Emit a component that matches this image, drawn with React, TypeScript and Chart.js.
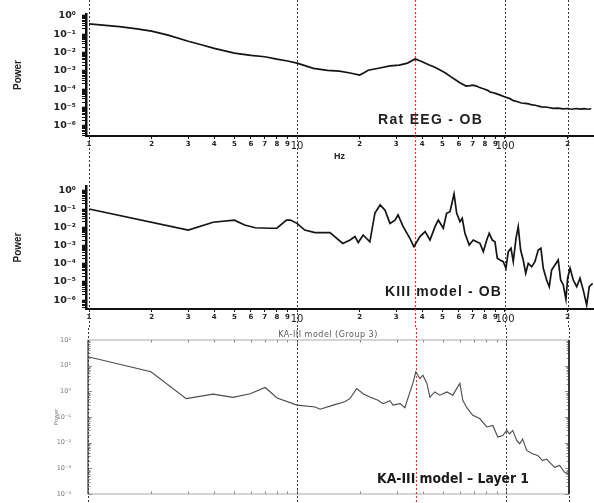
import React, { useEffect, useRef } from 'react';
import { Chart, registerables } from 'chart.js';

Chart.register(...registerables);

// ---------------- data ----------------
// Panel 1: Rat EEG - OB (Hz, power)
const eegFreq = [1, 1.2, 1.4, 1.7, 2, 2.4, 3, 3.5, 4, 4.5, 5, 6, 7, 8, 9, 10, 11, 12, 14, 16, 18, 20, 21, 22, 25, 28, 31, 34, 37, 40, 43, 46, 49, 52, 55, 58, 61, 65, 68, 70, 73, 75, 78, 80, 83, 85, 88, 90, 95, 100, 105, 110, 115, 120, 125, 130, 135, 140, 145, 150, 160, 170, 180, 190, 200, 210, 220, 230, 240, 250, 260];
const eegPower = [0.37, 0.31, 0.26, 0.2, 0.15, 0.09, 0.042, 0.026, 0.017, 0.0125, 0.0094, 0.0071, 0.006, 0.0044, 0.0035, 0.0027, 0.0019, 0.0014, 0.00108, 0.00098, 0.00078, 0.0006, 0.0008, 0.0011, 0.00145, 0.0019, 0.0021, 0.0027, 0.0045, 0.0032, 0.0022, 0.0016, 0.0011, 0.00075, 0.00048, 0.00032, 0.00022, 0.00015, 0.00016, 0.00017, 0.00015, 0.00013, 0.00011, 0.0001, 0.000085, 0.00007, 0.000065, 0.00006, 0.000048, 0.000038, 0.000032, 0.000024, 0.000021, 0.000018, 0.000017, 0.000016, 0.000014, 0.0000135, 0.000012, 0.000011, 0.0000105, 0.0000092, 0.0000095, 0.0000085, 0.000009, 0.0000082, 0.000009, 0.0000083, 0.0000088, 0.0000082, 0.0000087];

// Panel 2: KIII model - OB
const kiiiFreq = [1, 3, 3.95, 5, 5.6, 6.3, 7.4, 8, 8.9, 9.3, 10, 10.9, 12.2, 14.4, 16.6, 18, 19, 19.7, 20.8, 22.4, 23.7, 25.1, 26.5, 28, 29.6, 30.6, 32.4, 34.9, 36.5, 39, 41.3, 43.6, 46.1, 47.8, 50.5, 52.4, 54.4, 56.9, 58.6, 60.8, 62.3, 64.2, 67.3, 70.4, 73.1, 75.8, 78.7, 81.7, 84, 86.9, 89.5, 91.8, 94.6, 98.1, 101.1, 103.7, 106.9, 109.6, 113, 115.8, 118.9, 122.4, 125.8, 129.4, 134.4, 139.3, 144.5, 148.9, 152.8, 158.6, 163.3, 167.6, 173.9, 180.3, 185.2, 190.6, 196.4, 200.1, 205.6, 213, 221.2, 229.5, 237.9, 247.1, 254.3, 264];
const kiiiPower = [0.102, 0.0071, 0.019, 0.025, 0.0135, 0.0095, 0.0089, 0.0091, 0.025, 0.025, 0.0166, 0.0071, 0.0051, 0.0051, 0.0013, 0.002, 0.0031, 0.00145, 0.0038, 0.0016, 0.062, 0.17, 0.089, 0.0166, 0.025, 0.048, 0.011, 0.0025, 0.00085, 0.0031, 0.0058, 0.002, 0.011, 0.025, 0.0089, 0.059, 0.072, 0.68, 0.059, 0.0204, 0.0316, 0.0047, 0.00107, 0.002, 0.00162, 0.00132, 0.00046, 0.002, 0.0047, 0.002, 0.00162, 0.0002, 0.00016, 0.00013, 0.000056, 0.00046, 0.0007, 0.00013, 0.0025, 0.011, 0.00056, 0.00016, 0.0000295, 0.000105, 0.000068, 0.00013, 0.00056, 0.0007, 0.000056, 0.0000126, 0.0000054, 0.0000447, 0.000085, 0.00016, 0.0000126, 0.0000068, 0.0000011, 0.0000158, 0.000056, 0.0000126, 0.0000054, 0.0000158, 0.0000035, 0.00000053, 0.0000054, 0.0000083];

// Panel 3: KA-III model - Layer 1
const kaFreq = [1, 2, 2.95, 3.97, 4.94, 5.97, 7.04, 8.03, 10, 12.2, 12.9, 14.9, 16.9, 17.9, 19.3, 20.7, 22.3, 24.4, 25.8, 27.8, 28.8, 31.1, 32.8, 34.7, 35.8, 37, 38.7, 40, 41.8, 43.2, 45.6, 48.2, 52.1, 55.6, 60.1, 62.1, 64.9, 69.3, 74.8, 80.9, 86.4, 91.3, 96.4, 100.7, 104, 107.6, 112.4, 116.2, 120, 125.4, 134, 141.6, 149.6, 156.3, 161.7, 170.8, 180.5, 190.6, 197.2];
const kaPower = [22.4, 5.75, 0.52, 0.78, 0.58, 0.81, 1.41, 0.55, 0.29, 0.245, 0.2, 0.29, 0.39, 0.52, 1.29, 0.81, 0.6, 0.45, 0.33, 0.43, 0.29, 0.33, 0.23, 0.95, 2.04, 5.75, 3.16, 4.27, 2.04, 0.6, 0.95, 0.71, 0.95, 0.71, 2.04, 0.45, 0.23, 0.117, 0.087, 0.041, 0.047, 0.0166, 0.019, 0.03, 0.022, 0.03, 0.0123, 0.0091, 0.014, 0.005, 0.0037, 0.0032, 0.002, 0.0023, 0.0017, 0.0011, 0.0013, 0.0007, 0.0006];

// reference frequency lines and tick labels
const markerFreqs = [1, 10, 37, 100, 200];
const redMarkerFreq = 37;
const upperXTicks = [1, 2, 3, 4, 5, 6, 7, 8, 9, 10, 20, 30, 40, 50, 60, 70, 80, 90, 100, 200];
const upperMajorX = [10, 100];
const kaXTicks = [1, 10, 100];
const kaYTicks = [1e2, 1e1, 1e0, 1e-1, 1e-2, 1e-3, 1e-4];

const eegLabel = 'Rat EEG - OB';
const kiiiLabel = 'KIII model - OB';
const kaLabel = 'KA-III model \u2013 Layer 1';
const kaHeader = 'KA-III model (Group 3)';
const powerTitle = 'Power';
const hzTitle = 'Hz';

// ---------------- helpers ----------------
const SUP: Record<string, string> = { '0': '\u2070', '1': '\u00b9', '2': '\u00b2', '3': '\u00b3', '4': '\u2074', '5': '\u2075', '6': '\u2076', '7': '\u2077', '8': '\u2078', '9': '\u2079', '-': '\u207b' };
const pow10Label = (v: number) => '10' + String(Math.round(Math.log10(v))).split('').map((c) => SUP[c] || c).join('');
const isDecade = (v: number) => Math.abs(Math.log10(v) - Math.round(Math.log10(v))) < 1e-6;
const upperXLabel = (v: number) => {
  if (v === 1 || v === 10 || v === 100) return String(v);
  const e = Math.floor(Math.log10(v) + 1e-9);
  return String(Math.round(v / Math.pow(10, e)));
};
const logTickValues = (min: number, max: number) => {
  const out: { value: number }[] = [];
  for (let e = Math.floor(Math.log10(min)); e <= Math.ceil(Math.log10(max)); e++) {
    for (let k = 1; k <= 9; k++) {
      const v = k * Math.pow(10, e);
      if (v >= min * 0.999 && v <= max * 1.001) out.push({ value: v });
    }
  }
  return out;
};
const toPoints = (xs: number[], ys: number[]) => xs.map((x, i) => ({ x, y: ys[i] }));

// ---------------- plugins ----------------
const markerPlugin = {
  id: 'markers',
  beforeDatasetsDraw(chart: any) {
    const { ctx } = chart;
    const xs = chart.scales.x;
    markerFreqs.forEach((f) => {
      const px = Math.round(xs.getPixelForValue(f)) + 0.5;
      const red = f === redMarkerFreq;
      ctx.save();
      ctx.setLineDash([2, 2]);
      ctx.lineWidth = red ? 1.2 : 1;
      ctx.strokeStyle = red ? 'rgb(232,52,44)' : '#3c3c3c';
      ctx.beginPath();
      ctx.moveTo(px, 0);
      ctx.lineTo(px, chart.height);
      ctx.stroke();
      ctx.restore();
    });
  },
};

type Note = { text: string; x: number; y: number; font: string; color: string; align?: CanvasTextAlign; spacing?: number; maxWidth?: number };
const makeNotes = (items: Note[]) => ({
  id: 'notes',
  afterDatasetsDraw(chart: any) {
    const { ctx } = chart;
    items.forEach((it) => {
      ctx.save();
      ctx.font = it.font;
      ctx.fillStyle = it.color;
      ctx.textAlign = it.align || 'left';
      ctx.textBaseline = 'middle';
      if (it.spacing) (ctx as any).letterSpacing = it.spacing + 'px';
      if (it.maxWidth) ctx.fillText(it.text, it.x, it.y, it.maxWidth);
      else ctx.fillText(it.text, it.x, it.y);
      ctx.restore();
    });
  },
});

const kaBoxPlugin = {
  id: 'kaBox',
  beforeDatasetsDraw(chart: any) {
    const { ctx, chartArea: a } = chart;
    const xs = chart.scales.x;
    const ys = chart.scales.y;
    ctx.save();
    ctx.strokeStyle = '#b8b8b8';
    ctx.lineWidth = 1.2;
    ctx.strokeRect(a.left, a.top, a.right - a.left, a.bottom - a.top);
    ctx.strokeStyle = '#8c8c8c';
    ctx.lineWidth = 1;
    ctx.beginPath();
    for (let e = 0; e <= 2; e++) {
      for (let k = 1; k <= 9; k++) {
        const v = k * Math.pow(10, e);
        if (v > xs.max) break;
        const px = Math.round(xs.getPixelForValue(v)) + 0.5;
        const len = k === 1 ? 4 : 2.5;
        ctx.moveTo(px, a.bottom);
        ctx.lineTo(px, a.bottom - len);
        ctx.moveTo(px, a.top);
        ctx.lineTo(px, a.top + len);
      }
    }
    for (let e = -4; e <= 1; e++) {
      for (let k = 1; k <= 9; k++) {
        const v = k * Math.pow(10, e);
        const py = Math.round(ys.getPixelForValue(v)) + 0.5;
        const len = k === 1 ? 4 : 2.5;
        ctx.moveTo(a.left, py);
        ctx.lineTo(a.left + len, py);
        ctx.moveTo(a.right, py);
        ctx.lineTo(a.right - len, py);
      }
    }
    ctx.stroke();
    ctx.strokeStyle = '#6e6e6e';
    ctx.lineWidth = 1.5;
    ctx.beginPath();
    ctx.moveTo(a.left, a.top);
    ctx.lineTo(a.left, a.bottom);
    ctx.stroke();
    ctx.strokeStyle = '#333';
    ctx.lineWidth = 2;
    ctx.beginPath();
    ctx.moveTo(a.right, a.top);
    ctx.lineTo(a.right, a.bottom);
    ctx.stroke();
    ctx.restore();
  },
};

// ---------------- configs ----------------
const X_MIN = 0.967;
const X_MAX = 265;

function upperConfig(freq: number[], power: number[], yMin: number, yMax: number, padTop: number, xAxisHeight: number, showHz: boolean, notes: Note[]) {
  return {
    type: 'line',
    data: {
      datasets: [
        { data: toPoints(freq, power), borderColor: '#141414', borderWidth: 1.7, pointRadius: 0, tension: 0, fill: false },
      ],
    },
    options: {
      animation: false,
      responsive: false,
      devicePixelRatio: 1,
      events: [],
      layout: { padding: { left: 0, right: 1, top: padTop, bottom: 0 } },
      plugins: { legend: { display: false }, tooltip: { enabled: false }, title: { display: false } },
      scales: {
        x: {
          type: 'logarithmic',
          position: 'bottom',
          min: X_MIN,
          max: X_MAX,
          afterBuildTicks: (s: any) => { s.ticks = upperXTicks.map((v) => ({ value: v })); },
          afterFit: (s: any) => { s.height = xAxisHeight; s.paddingLeft = 0; s.paddingRight = 0; },
          grid: { display: true, drawOnChartArea: false, drawTicks: true, tickLength: 3, color: '#111', lineWidth: 1 },
          border: { display: true, color: '#111', width: 2 },
          ticks: {
            autoSkip: false,
            maxRotation: 0,
            minRotation: 0,
            padding: 1,
            color: '#222',
            callback: (v: any) => upperXLabel(Number(v)),
            font: (c: any) => (c.tick && upperMajorX.includes(c.tick.value)
              ? { family: "'DejaVu Sans', sans-serif", size: 10 }
              : { family: "'DejaVu Sans', sans-serif", size: 7, weight: 'bold' }),
          },
          title: { display: showHz, text: hzTitle, color: '#222', font: { family: "'Liberation Sans', Arial, sans-serif", size: 9, weight: 'bold' }, padding: { top: 0, bottom: 2.6 } },
        },
        y: {
          type: 'logarithmic',
          position: 'left',
          min: yMin,
          max: yMax,
          afterBuildTicks: (s: any) => { s.ticks = logTickValues(yMin, yMax); },
          afterFit: (s: any) => { s.width = 86; s.paddingTop = 0; s.paddingBottom = 0; },
          grid: {
            display: true,
            drawOnChartArea: false,
            drawTicks: true,
            tickLength: 4,
            color: '#111',
            tickWidth: (c: any) => (c.tick && isDecade(c.tick.value) ? 1.6 : 1),
          },
          border: { display: true, color: '#111', width: 2.5 },
          ticks: {
            autoSkip: false,
            padding: 6,
            color: '#222',
            font: { family: "'DejaVu Sans', sans-serif", size: 9.5, weight: 'bold' },
            callback: (v: any) => (isDecade(Number(v)) ? pow10Label(Number(v)) : ''),
          },
          title: { display: true, text: powerTitle, color: '#222', font: { family: "'Liberation Sans Narrow', 'Liberation Sans', Arial, sans-serif", size: 10, weight: 'bold' }, padding: { top: 12, bottom: 0 } },
        },
      },
    },
    plugins: [markerPlugin, makeNotes(notes)],
  };
}

const eegConfig = () => upperConfig(eegFreq, eegPower, 2.84e-7, 1.285, 14, 29, true, [
  { text: eegLabel, x: 378, y: 120, font: "bold 14px 'Liberation Sans', Arial, sans-serif", color: '#222', spacing: 1.3, maxWidth: 106 },
]);

const kiiiConfig = () => upperConfig(kiiiFreq, kiiiPower, 3.21e-7, 1.884, 21, 19, false, [
  { text: kiiiLabel, x: 385, y: 127, font: "bold 14px 'Liberation Sans', Arial, sans-serif", color: '#1c1c1c', spacing: 1.1, maxWidth: 118 },
]);

const kaConfig = () => ({
  type: 'line',
  data: {
    datasets: [
      { data: toPoints(kaFreq, kaPower), borderColor: '#4a4a4a', borderWidth: 1.1, pointRadius: 0, tension: 0, fill: false },
    ],
  },
  options: {
    animation: false,
    responsive: false,
    devicePixelRatio: 1,
    events: [],
    layout: { padding: { left: 0, right: 25, top: 12, bottom: 0 } },
    plugins: { legend: { display: false }, tooltip: { enabled: false }, title: { display: false } },
    scales: {
      x: {
        type: 'logarithmic',
        position: 'bottom',
        min: 1,
        max: 200,
        afterBuildTicks: (s: any) => { s.ticks = kaXTicks.map((v) => ({ value: v })); },
        afterFit: (s: any) => { s.height = 9; s.paddingLeft = 0; s.paddingRight = 0; },
        grid: { display: false },
        border: { display: false },
        ticks: { autoSkip: false, maxRotation: 0, minRotation: 0, padding: 1, color: '#7a7a7a', font: { family: "'DejaVu Sans', sans-serif", size: 6.5 }, callback: (v: any) => pow10Label(Number(v)) },
      },
      y: {
        type: 'logarithmic',
        position: 'left',
        min: 1e-4,
        max: 1e2,
        afterBuildTicks: (s: any) => { s.ticks = kaYTicks.map((v) => ({ value: v })); },
        afterFit: (s: any) => { s.width = 88; s.paddingTop = 0; s.paddingBottom = 0; },
        grid: { display: false },
        border: { display: false },
        ticks: { autoSkip: false, padding: 9, color: '#7a7a7a', font: { family: "'DejaVu Sans', sans-serif", size: 6.5 }, callback: (v: any) => pow10Label(Number(v)) },
        title: { display: true, text: powerTitle, color: '#7a7a7a', font: { family: "'DejaVu Sans', sans-serif", size: 5.5 }, padding: { top: 53, bottom: 0 } },
      },
    },
  },
  plugins: [
    kaBoxPlugin,
    markerPlugin,
    makeNotes([
      { text: kaHeader, x: 328, y: 7, align: 'center', font: "8px 'DejaVu Sans', sans-serif", color: '#5a5a5a', spacing: 0.5, maxWidth: 111 },
      { text: kaLabel, x: 377, y: 151, font: "bold 14px 'DejaVu Sans Condensed', 'DejaVu Sans', sans-serif", color: '#1a1a1a', maxWidth: 152 },
    ]),
  ],
});

// ---------------- components ----------------
function ChartCanvas({ top, height, build }: { top: number; height: number; build: () => any }) {
  const ref = useRef<HTMLCanvasElement>(null);
  useEffect(() => {
    const chart = new Chart(ref.current as HTMLCanvasElement, build());
    return () => chart.destroy();
  }, [build]);
  return (
    <canvas
      ref={ref}
      width={594}
      height={height}
      style={{ position: 'absolute', left: 0, top, width: 594, height, display: 'block' }}
    />
  );
}

export default function App() {
  useEffect(() => {
    document.body.style.margin = '0';
    document.body.style.background = '#fff';
  }, []);
  return (
    <div style={{ position: 'absolute', left: 0, top: 0, width: 594, height: 503, background: '#fff', overflow: 'hidden' }}>
      <ChartCanvas top={0} height={165} build={eegConfig} />
      <ChartCanvas top={165} height={163} build={kiiiConfig} />
      <ChartCanvas top={328} height={175} build={kaConfig} />
    </div>
  );
}
